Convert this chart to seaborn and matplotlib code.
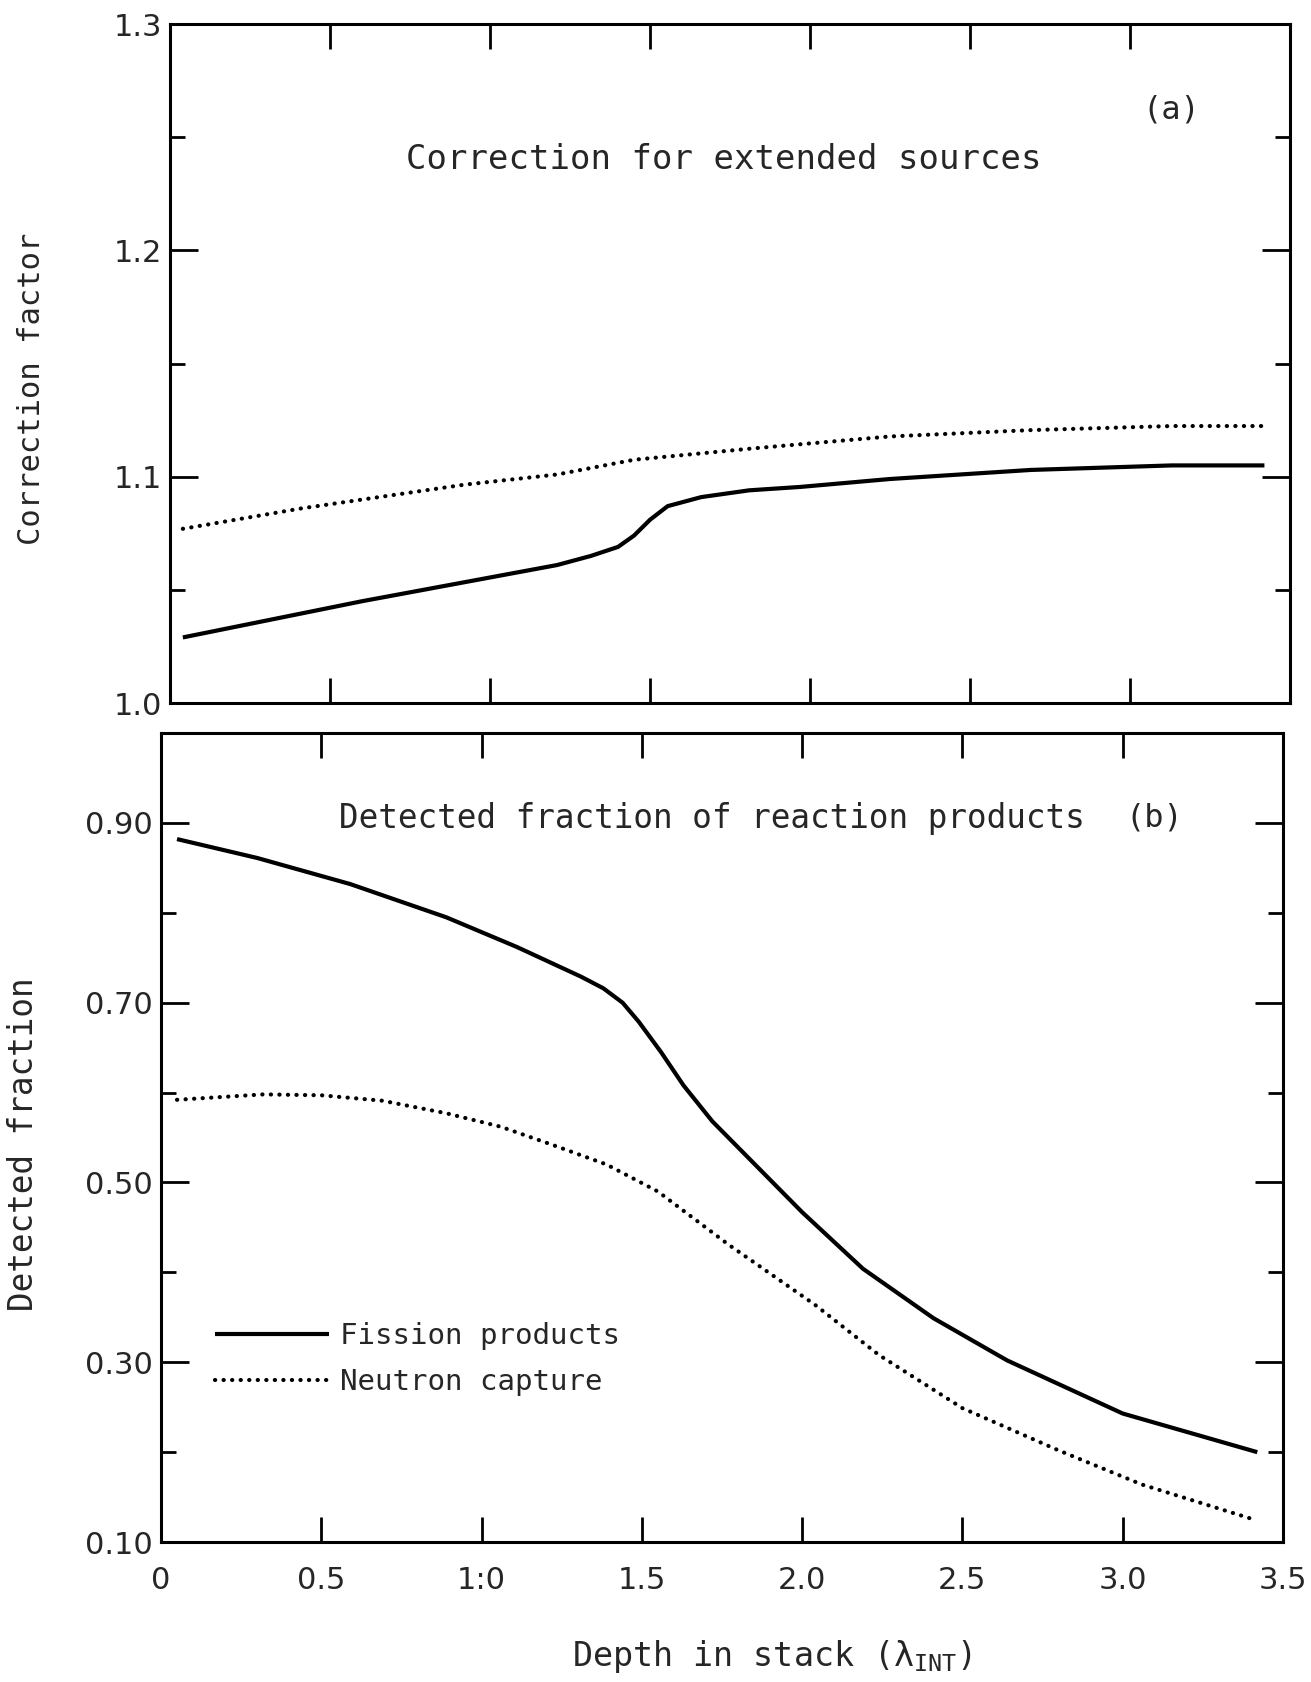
import numpy as np
import pandas as pd
import matplotlib
matplotlib.use("Agg")
import matplotlib.pyplot as plt
import seaborn as sns
from matplotlib.ticker import FixedLocator, FixedFormatter, NullFormatter

# ---------------- data ----------------
# panel (a): correction factor vs depth
depth_a_fission = [0.04, 0.60, 1.21, 1.315, 1.40, 1.45, 1.50, 1.555, 1.66, 1.81, 1.97, 2.25, 2.69, 3.13, 3.42]
corr_fission = [1.029, 1.045, 1.061, 1.065, 1.069, 1.074, 1.081, 1.087, 1.091, 1.094, 1.0955, 1.099, 1.103, 1.105, 1.105]
depth_a_capture = [0.04, 0.41, 0.92, 1.21, 1.45, 1.82, 2.25, 2.69, 3.13, 3.42]
corr_capture = [1.077, 1.086, 1.0965, 1.101, 1.1075, 1.1125, 1.1178, 1.1206, 1.1224, 1.1224]

# panel (b): detected fraction vs depth
depth_b_fission = [0.05, 0.30, 0.59, 0.89, 1.11, 1.31, 1.38, 1.44, 1.49, 1.56, 1.63, 1.72, 2.00, 2.19, 2.41, 2.64, 3.00, 3.42]
frac_fission = [0.882, 0.861, 0.832, 0.795, 0.762, 0.729, 0.716, 0.700, 0.679, 0.645, 0.608, 0.568, 0.467, 0.404, 0.349, 0.302, 0.243, 0.200]
depth_b_capture = [0.05, 0.32, 0.50, 0.69, 0.89, 1.06, 1.22, 1.39, 1.55, 1.77, 2.04, 2.24, 2.50, 2.80, 3.06, 3.41]
frac_capture = [0.592, 0.598, 0.597, 0.591, 0.577, 0.562, 0.542, 0.520, 0.490, 0.431, 0.364, 0.308, 0.249, 0.202, 0.164, 0.125]

x_ticks = [0, 0.5, 1.0, 1.5, 2.0, 2.5, 3.0, 3.5]
x_tick_labels = ["0", "0.5", "1:0", "1.5", "2.0", "2.5", "3.0", "3.5"]
a_major = [1.0, 1.1, 1.2, 1.3]
a_labels = ["1.0", "1.1", "1.2", "1.3"]
a_minor = [1.05, 1.15, 1.25]
b_major = [0.10, 0.30, 0.50, 0.70, 0.90]
b_labels = ["0.10", "0.30", "0.50", "0.70", "0.90"]
b_minor = [0.20, 0.40, 0.60, 0.80]

series_names = ["Fission products", "Neutron capture"]

# ---------------- style ----------------
sns.set_theme(style="ticks")
plt.rcParams["font.family"] = ["DejaVu Sans"]
plt.rcParams["axes.linewidth"] = 2.2
plt.rcParams["mathtext.fontset"] = "custom"
plt.rcParams["mathtext.rm"] = "DejaVu Sans Mono"
plt.rcParams["mathtext.it"] = "DejaVu Sans Mono"

MONO = "DejaVu Sans Mono"
fig = plt.figure(figsize=(13.11, 16.82), dpi=100)
fig.patch.set_facecolor("white")

ax_a = fig.add_axes([0.1297, 0.582, 0.8543, 0.4037])
ax_b = fig.add_axes([0.1228, 0.0832, 0.8558, 0.481])

solid_kw = dict(color="black", lw=3.0, solid_capstyle="butt", solid_joinstyle="round")
dot_kw = dict(color="black", lw=3.0, linestyle=(0, (0.05, 2.0)), dash_capstyle="round")

sns.lineplot(x=depth_a_fission, y=corr_fission, ax=ax_a, **solid_kw)
sns.lineplot(x=depth_a_capture, y=corr_capture, ax=ax_a, **dot_kw)
sns.lineplot(x=depth_b_fission, y=frac_fission, ax=ax_b, label=series_names[0], **solid_kw)
sns.lineplot(x=depth_b_capture, y=frac_capture, ax=ax_b, label=series_names[1], **dot_kw)

for ax in (ax_a, ax_b):
    ax.set_xlim(0, 3.5)
    ax.set_facecolor("white")
    for s in ax.spines.values():
        s.set_visible(True)
        s.set_color("black")
        s.set_linewidth(2.2)
    ax.xaxis.set_major_locator(FixedLocator(x_ticks))
    ax.tick_params(axis="x", which="major", direction="in", length=18, width=2,
                   top=True, bottom=True, color="black")
    ax.tick_params(axis="y", which="major", direction="in", length=20, width=2,
                   left=True, right=True, color="black", labelsize=22, pad=6)
    ax.tick_params(axis="y", which="minor", direction="in", length=11, width=2,
                   left=True, right=True, color="black")
    ax.set_xlabel("")
    ax.set_ylabel("")

# panel a axes
ax_a.set_ylim(1.0, 1.3)
ax_a.yaxis.set_major_locator(FixedLocator(a_major))
ax_a.yaxis.set_major_formatter(FixedFormatter(a_labels))
ax_a.yaxis.set_minor_locator(FixedLocator(a_minor))
ax_a.xaxis.set_major_formatter(NullFormatter())

# panel b axes
ax_b.set_ylim(0.10, 1.0)
ax_b.yaxis.set_major_locator(FixedLocator(b_major))
ax_b.yaxis.set_major_formatter(FixedFormatter(b_labels))
ax_b.yaxis.set_minor_locator(FixedLocator(b_minor))
ax_b.xaxis.set_major_formatter(FixedFormatter(x_tick_labels))
ax_b.tick_params(axis="x", labelsize=22, pad=17)

# annotations
ax_a.text(3.13, 1.262, "(a)", fontsize=23, family=MONO, ha="center", va="center")
ax_a.text(1.73, 1.240, "Correction for extended sources", fontsize=24.5, family=MONO,
          ha="center", va="center")
ax_b.text(1.717, 0.905, "Detected fraction of reaction products", fontsize=23.5, family=MONO,
          ha="center", va="center")
ax_b.text(3.10, 0.905, "(b)", fontsize=23, family=MONO, ha="center", va="center")

leg = ax_b.legend(loc="center left", bbox_to_anchor=(0.048, 0.226), frameon=False,
                  prop={"family": MONO, "size": 21}, handlelength=3.9, handletextpad=0.4,
                  labelspacing=0.6, borderpad=0, borderaxespad=0)

fig.text(0.0244, 0.769, "Correction factor", rotation=90, fontsize=22, family=MONO,
         ha="center", va="center")
fig.text(0.018, 0.32, "Detected fraction", rotation=90, fontsize=23.5, family=MONO,
         ha="center", va="center")
fig.text(0.589, 0.0149, r"Depth in stack ($\lambda_{\mathrm{INT}}$)", fontsize=24, family=MONO,
         ha="center", va="center")

fig.savefig("out.png", dpi=100, facecolor="white")
